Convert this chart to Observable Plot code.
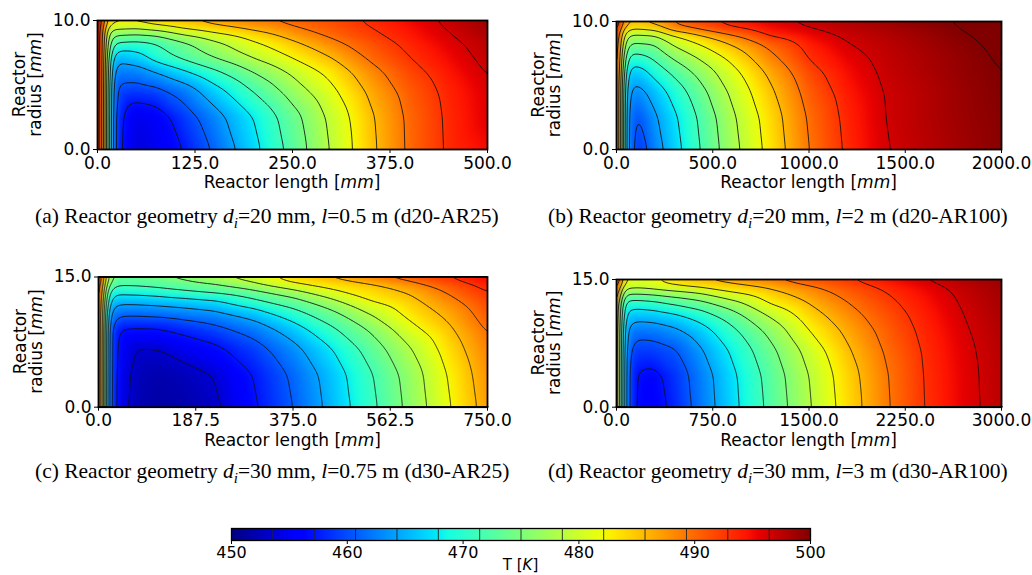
<!DOCTYPE html>
<html><head><meta charset="utf-8">
<script src="https://cdn.jsdelivr.net/npm/d3@7"></script>
<script src="https://cdn.jsdelivr.net/npm/@observablehq/plot@0.6"></script>
<style>
body{margin:0;background:#fff;}
#root{position:relative;width:1032px;height:575px;overflow:hidden;background:#fff;}
.cap{position:absolute;font-family:"Liberation Serif",serif;font-size:21.5px;line-height:22px;color:#000;white-space:nowrap;}
.cap sub{font-size:70%;line-height:0;}
</style></head><body><div id="root"></div>
<script>
// normalised grid positions (fraction of reactor length / radius)
const uFrac = [0, 0.01, 0.025, 0.04, 0.06, 0.1, 0.15, 0.22, 0.3, 0.4, 0.5, 0.6, 0.7, 0.8, 0.9, 1.0];
const vFrac = [0, 0.25, 0.45, 0.6, 0.72, 0.82, 0.9, 0.95, 1.0];

// temperature readings [K], one row per vFrac, one column per uFrac
const tempA = [
 [500, 493.1, 476.1, 461.1, 457.0, 454.0, 454.8, 457.2, 461.2, 466.8, 472.7, 478.9, 484.9, 489.9, 493.3, 495.0],
 [500, 493.1, 476.1, 461.2, 457.4, 454.6, 455.3, 458.9, 462.8, 467.9, 473.6, 479.5, 485.2, 490.0, 493.4, 495.8],
 [500, 493.2, 476.2, 461.4, 459.4, 458.9, 459.6, 462.0, 466.3, 471.5, 476.5, 481.3, 486.4, 490.7, 493.7, 496.0],
 [500, 493.3, 476.4, 463.1, 462.2, 462.6, 464.3, 467.1, 470.6, 475.0, 479.2, 483.2, 488.0, 491.7, 494.4, 496.6],
 [500, 493.4, 476.6, 466.1, 465.6, 466.6, 469.7, 472.5, 475.4, 479.0, 482.5, 485.9, 490.0, 492.9, 495.1, 497.2],
 [500, 493.6, 476.9, 470.9, 470.6, 470.1, 471.1, 474.0, 477.4, 481.4, 484.8, 488.2, 491.1, 493.6, 495.7, 497.5],
 [500, 493.6, 477.6, 476.1, 475.9, 475.6, 476.1, 479.2, 481.6, 484.4, 487.5, 490.3, 492.4, 494.4, 496.4, 498.2],
 [500, 493.9, 480.6, 480.2, 480.0, 479.4, 481.1, 483.1, 484.9, 487.0, 489.0, 490.9, 492.8, 494.7, 496.6, 498.5],
 [500, 494.6, 485.6, 484.1, 483.6, 484.1, 485.1, 486.1, 487.6, 489.3, 490.6, 491.7, 493.5, 495.3, 497.1, 498.9]
];
const tempB = [
 [500, 483.6, 464.3, 460.9, 458.8, 462.6, 466.4, 471.6, 477.3, 483.4, 489.3, 493.4, 496.3, 497.5, 498.6, 499.6],
 [500, 483.6, 464.4, 461.2, 460.4, 463.8, 467.2, 472.2, 477.9, 483.9, 489.7, 493.7, 496.5, 497.7, 498.8, 499.7],
 [500, 483.8, 464.6, 463.4, 463.3, 465.7, 469.2, 473.9, 479.3, 485.1, 490.6, 494.2, 496.6, 497.7, 498.9, 499.9],
 [500, 484.0, 467.1, 466.1, 466.2, 469.1, 472.2, 476.3, 480.9, 486.5, 491.6, 494.8, 496.9, 498.0, 499.1, 500.0],
 [500, 484.2, 470.6, 470.1, 470.3, 472.2, 475.6, 479.2, 483.2, 488.5, 493.1, 495.5, 497.1, 498.2, 499.2, 500.3],
 [500, 484.6, 475.1, 474.4, 474.6, 475.0, 479.0, 482.2, 485.7, 490.2, 493.9, 496.3, 497.4, 498.5, 499.5, 500.5],
 [500, 485.6, 479.1, 478.1, 478.3, 478.6, 482.2, 485.7, 489.3, 493.5, 495.3, 496.9, 497.8, 498.8, 499.9, 500.6],
 [500, 487.6, 484.6, 483.4, 483.6, 484.6, 489.3, 491.2, 493.2, 494.9, 496.5, 497.4, 498.3, 499.2, 500.1, 500.7],
 [500, 493.6, 487.6, 486.1, 486.1, 487.6, 489.6, 492.1, 493.9, 495.9, 497.1, 498.0, 498.8, 499.6, 500.3, 500.9]
];
const tempC = [
 [500, 482.0, 462.5, 458.0, 454.5, 452.3, 451.6, 451.9, 453.0, 456.7, 460.7, 465.4, 470.5, 476.0, 481.8, 487.2],
 [500, 482.0, 462.6, 458.1, 454.8, 452.6, 452.0, 452.5, 453.7, 457.3, 461.3, 465.9, 471.1, 476.5, 482.4, 487.8],
 [500, 482.2, 462.8, 458.3, 455.5, 453.4, 453.5, 454.9, 456.4, 459.3, 463.2, 467.8, 473.0, 478.3, 483.7, 488.7],
 [500, 482.4, 463.0, 458.5, 457.0, 456.8, 456.9, 458.2, 459.7, 462.2, 466.1, 470.8, 475.5, 480.9, 485.1, 489.7],
 [500, 482.6, 464.5, 462.0, 461.5, 461.5, 461.8, 462.5, 463.5, 466.0, 469.9, 474.0, 478.8, 483.2, 486.6, 490.9],
 [500, 483.0, 468.0, 466.0, 465.5, 465.6, 466.0, 466.7, 467.7, 470.9, 473.8, 477.8, 482.4, 484.8, 488.3, 492.0],
 [500, 484.0, 472.0, 469.5, 469.8, 470.0, 470.5, 471.8, 473.0, 474.7, 478.0, 482.1, 484.1, 486.4, 490.0, 493.1],
 [500, 485.0, 475.0, 473.0, 472.5, 472.5, 473.0, 473.8, 475.0, 478.8, 482.1, 483.7, 485.3, 488.1, 491.1, 494.0],
 [500, 488.0, 479.0, 475.0, 473.5, 473.8, 474.6, 476.6, 478.6, 480.5, 484.5, 487.0, 489.6, 491.6, 493.6, 495.5]
];
const tempD = [
 [500, 471.0, 463.5, 458.0, 456.2, 455.8, 458.0, 462.2, 466.8, 472.4, 478.2, 483.8, 488.85, 492.9, 495.55, 497.5],
 [500, 471.2, 463.6, 458.0, 456.6, 456.3, 458.6, 462.5, 467.1, 472.8, 478.6, 484.2, 489.05, 493.0, 495.6, 497.6],
 [500, 471.5, 463.8, 459.5, 459.2, 459.4, 460.4, 464.0, 468.4, 474.1, 479.9, 485.3, 489.7, 493.2, 495.8, 497.7],
 [500, 471.8, 464.0, 462.3, 462.0, 462.3, 463.5, 466.3, 470.5, 476.1, 482.1, 486.5, 490.4, 493.6, 496.1, 497.9],
 [500, 472.0, 466.5, 466.0, 465.8, 466.2, 467.2, 469.6, 473.4, 479.0, 484.0, 487.9, 491.2, 494.0, 496.4, 498.1],
 [500, 472.5, 470.0, 469.8, 470.0, 470.6, 472.2, 474.1, 477.3, 482.6, 485.9, 489.25, 492.05, 494.5, 496.7, 498.3],
 [500, 477.0, 476.5, 476.0, 476.0, 476.5, 477.5, 479.0, 482.2, 484.8, 487.6, 490.4, 492.86, 495.0, 497.0, 498.5],
 [500, 481.0, 480.5, 480.5, 480.5, 481.2, 482.1, 483.2, 484.5, 486.2, 488.9, 491.3, 493.45, 495.5, 497.3, 498.7],
 [500, 490.0, 483.0, 481.0, 480.8, 481.7, 484.5, 486.5, 488.0, 490.0, 491.8, 493.2, 495.0, 496.8, 498.0, 499.0]
];

// colour-bar divisions (= contour levels) and the top limit
const levels = [453.57, 457.14, 460.71, 464.29, 467.86, 471.43, 475.00, 478.57, 482.14, 485.71, 489.29, 492.86, 496.43];
const lineLevels = [453.57, 457.14, 460.71, 464.29, 467.86, 471.43, 475.00, 478.57, 482.14, 485.71, 489.29, 492.86, 496.43, 500];
const cbTicks = [450, 460, 470, 480, 490, 500];

// jet colour map stops
const jetT = [450, 455.5, 456.25, 467, 467.5, 468.75, 482, 482.5, 483, 494.5, 495.5, 500];
const jetColors = ["rgb(0,0,128)","rgb(0,0,255)","rgb(0,0,255)","rgb(0,219,255)","rgb(0,229,247)","rgb(21,255,226)",
                   "rgb(239,255,8)","rgb(247,245,0)","rgb(255,236,0)","rgb(255,19,0)","rgb(232,0,0)","rgb(128,0,0)"];

const lengthsMm = [500, 2000, 750, 3000];
const radiiMm = [10, 10, 15, 15];
const xTickSets = [[0,125,250,375,500],[0,500,1000,1500,2000],[0,187.5,375,562.5,750],[0,750,1500,2250,3000]];
const capLabels = ["(a)","(b)","(c)","(d)"];
const capDiam = ["20","20","30","30"];
const capLen = ["0.5","2","0.75","3"];
const capTags = ["d20-AR25","d20-AR100","d30-AR25","d30-AR100"];

const temps = [tempA, tempB, tempC, tempD];
const layout = [
  {left:0,   top:0,   ml:97,  mr:29, mt:20,   mb:51},
  {left:516, top:0,   ml:100, mr:31, mt:21,   mb:51},
  {left:0,   top:256, ml:98,  mr:29, mt:20.5, mb:49.3},
  {left:516, top:256, ml:100, mr:31, mt:23,   mb:49.3}
];
const capPos = [{x:35,y:205},{x:548,y:205},{x:35,y:460},{x:548,y:460}];

const root = document.getElementById("root");
const colorOpt = {type:"linear", domain: jetT, range: jetColors, interpolate:"rgb", clamp:true};
const W = 516, H = 200;

temps.forEach((T, k) => {
  const L = lengthsMm[k], R = radiiMm[k], lay = layout[k];
  const rows = [];
  T.forEach((row, i) => row.forEach((t, j) => rows.push({x: uFrac[j]*L, y: vFrac[i]*R, T: t})));
  const svg = Plot.plot({
    width: W, height: H,
    marginLeft: lay.ml, marginRight: lay.mr, marginTop: lay.mt, marginBottom: lay.mb,
    style: {fontFamily: "DejaVu Sans", fontSize: "17px", color: "black", background: "transparent", overflow: "visible"},
    x: {domain: [0, L]},
    y: {domain: [0, R]},
    color: colorOpt,
    marks: [
      Plot.raster(rows, {x:"x", y:"y", fill:"T", interpolate:"barycentric", x1:0, x2:L, y1:0, y2:R, blur:3}),
      Plot.contour(rows, {x:"x", y:"y", value:"T", interpolate:"barycentric", x1:0, x2:L, y1:0, y2:R,
                          pixelSize:1, blur:4, thresholds: lineLevels, stroke:"#111", strokeWidth:0.85, fill:"none"}),
      Plot.frame({stroke:"black", strokeWidth:1.8}),
      Plot.axisX(xTickSets[k], {tickFormat: d3.format(".1f"), tickSize:4, tickPadding:3, label:null, fontSize:17}),
      Plot.axisY([0, R], {tickFormat: d3.format(".1f"), tickSize:4, tickPadding:3, label:null, fontSize:17})
    ]
  });
  svg.style.position = "absolute";
  svg.style.left = lay.left + "px";
  svg.style.top = lay.top + "px";
  const s = d3.select(svg);
  const fx0 = lay.ml, fx1 = W - lay.mr, fy0 = lay.mt, fy1 = H - lay.mb;
  const xl = s.append("text").attr("x", (fx0+fx1)/2).attr("y", fy1 + 39)
    .attr("text-anchor","middle").attr("font-family","DejaVu Sans").attr("font-size",17).attr("fill","black");
  xl.append("tspan").text("Reactor length [");
  xl.append("tspan").attr("font-style","italic").text("mm");
  xl.append("tspan").text("]");
  const cy = (fy0+fy1)/2;
  const xoff = lay.ml - 97;
  s.append("text").attr("transform", `translate(${25+xoff},${cy}) rotate(-90)`)
    .attr("text-anchor","middle").attr("font-family","DejaVu Sans").attr("font-size",17).attr("fill","black")
    .text("Reactor");
  const yl = s.append("text").attr("transform", `translate(${41+xoff},${cy}) rotate(-90)`)
    .attr("text-anchor","middle").attr("font-family","DejaVu Sans").attr("font-size",17).attr("fill","black");
  yl.append("tspan").text("radius [");
  yl.append("tspan").attr("font-style","italic").text("mm");
  yl.append("tspan").text("]");
  root.appendChild(svg);

  const cap = document.createElement("div");
  cap.className = "cap";
  cap.style.left = capPos[k].x + "px";
  cap.style.top = capPos[k].y + "px";
  cap.innerHTML = `${capLabels[k]} Reactor geometry <i>d</i><sub><i>i</i></sub>=${capDiam[k]} mm, <i>l</i>=${capLen[k]} m (${capTags[k]})`;
  root.appendChild(cap);
});

// colour bar
const cb = Plot.plot({
  width: 1032, height: 55,
  marginLeft: 231, marginRight: 222, marginTop: 8, marginBottom: 35,
  style: {fontFamily: "DejaVu Sans", fontSize: "16px", color: "black", background: "transparent", overflow: "visible"},
  x: {domain: [450, 500]},
  y: {domain: [0, 1], axis: null},
  color: colorOpt,
  marks: [
    Plot.raster({fill: (x, y) => x, x1: 450, x2: 500, y1: 0, y2: 1}),
    Plot.ruleX(levels, {stroke: "#222", strokeWidth: 0.9}),
    Plot.frame({stroke: "black", strokeWidth: 1.3}),
    Plot.axisX(cbTicks, {tickFormat: d => String(d), tickSize: 4, tickPadding: 2, label: null, fontSize: 16})
  ]
});
cb.style.position = "absolute";
cb.style.left = "0px";
cb.style.top = "520px";
const cbs = d3.select(cb);
const tl = cbs.append("text").attr("x", 520.5).attr("y", 50).attr("text-anchor","middle")
  .attr("font-family","DejaVu Sans").attr("font-size",15).attr("fill","black");
tl.append("tspan").text("T [");
tl.append("tspan").attr("font-style","italic").text("K");
tl.append("tspan").text("]");
root.appendChild(cb);
</script>
</body></html>
